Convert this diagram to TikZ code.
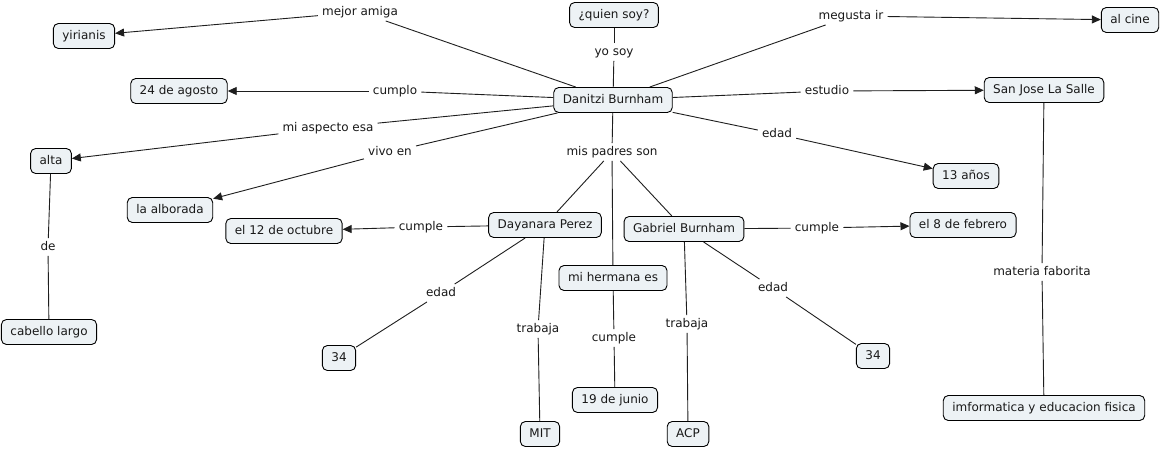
\documentclass[tikz,border=0pt]{standalone}
\usepackage{fontspec}
\setmainfont{DejaVu Sans}
\usetikzlibrary{arrows.meta}
\definecolor{boxfill}{RGB}{237,242,245}
\definecolor{linecol}{RGB}{30,30,30}
\tikzset{
  concept/.style={draw=black, line width=0.9pt, rounded corners=5pt, fill=boxfill,
    inner xsep=9pt, inner ysep=0pt, minimum height=25pt,
    text height=9pt, text depth=2.5pt, font=\fontsize{12}{14}\selectfont, text=black!90},
  lab/.style={inner xsep=4pt, inner ysep=3pt, text height=9pt, text depth=2.5pt,
    font=\fontsize{12}{14}\selectfont, text=black!90},
  conn/.style={draw=linecol, line width=0.9pt},
  arr/.style={conn, -{Triangle[length=9pt,width=8pt]}}
}
\begin{document}
\begin{tikzpicture}[x=1pt,y=-1pt]
\fill[white] (0,0) rectangle (1165,448);
\useasboundingbox (0,0) rectangle (1165,448);
% concepts
\node[concept] (q) at (614,15) {¿quien soy?};
\node[concept] (d) at (613,100) {Danitzi Burnham};
\node[concept] (y) at (84,36) {yirianis};
\node[concept] (ag) at (179,91) {24 de agosto};
\node[concept] (alta) at (51,161) {alta};
\node[concept] (alb) at (170,210) {la alborada};
\node[concept] (cab) at (49,332) {cabello largo};
\node[concept] (oct) at (284,231) {el 12 de octubre};
\node[concept] (dp) at (545,225) {Dayanara Perez};
\node[concept] (gb) at (684,229) {Gabriel Burnham};
\node[concept] (mh) at (613,278) {mi hermana es};
\node[concept] (l34) at (339,358) {34};
\node[concept] (mit) at (540,434) {MIT};
\node[concept] (jun) at (615,400) {19 de junio};
\node[concept] (acp) at (688,434) {ACP};
\node[concept] (r34) at (873,356) {34};
\node[concept] (cine) at (1130,20) {al cine};
\node[concept] (sj) at (1044,90) {San Jose La Salle};
\node[concept] (a13) at (966,176) {13 años};
\node[concept] (feb) at (963,225) {el 8 de febrero};
\node[concept] (inf) at (1044,408) {imformatica y educacion fisica};
% linking phrases
\node[lab] (lyo) at (614,52) {yo soy};
\node[lab] (lma) at (360,12) {mejor amiga};
\node[lab] (lcumplo) at (395,91) {cumplo};
\node[lab] (lasp) at (328,128) {mi aspecto esa};
\node[lab] (lvivo) at (390,152) {vivo en};
\node[lab] (lde) at (48,247) {de};
\node[lab] (lmg) at (851,16) {megusta ir};
\node[lab] (lest) at (827,91) {estudio};
\node[lab] (ledad) at (777,134) {edad};
\node[lab] (lpadres) at (612,152) {mis padres son};
\node[lab] (lcumpleL) at (421,227) {cumple};
\node[lab] (lcumpleR) at (817,228) {cumple};
\node[lab] (ledadL) at (441,293) {edad};
\node[lab] (ltrabL) at (538,329) {trabaja};
\node[lab] (lcumpleM) at (614,338) {cumple};
\node[lab] (ltrabR) at (687,324) {trabaja};
\node[lab] (ledadR) at (773,288) {edad};
\node[lab] (lmat) at (1042,272) {materia faborita};
% connections
\draw[conn] (d) -- (lyo); \draw[conn] (lyo) -- (q);
\draw[conn] (d) -- (lma); \draw[arr] (lma) -- (y);
\draw[conn] (d) -- (lcumplo); \draw[arr] (lcumplo) -- (ag);
\draw[conn] (d) -- (lasp); \draw[arr] (lasp) -- (alta);
\draw[conn] (d) -- (lvivo); \draw[arr] (lvivo) -- (alb);
\draw[conn] (alta) -- (lde); \draw[conn] (lde) -- (cab);
\draw[conn] (d) -- (lmg); \draw[arr] (lmg) -- (cine);
\draw[conn] (d) -- (lest); \draw[arr] (lest) -- (sj);
\draw[conn] (d) -- (ledad); \draw[arr] (ledad) -- (a13);
\draw[conn] (d) -- (lpadres);
\draw[conn] (lpadres) -- (dp);
\draw[conn] (lpadres) -- (gb);
\draw[conn] (lpadres) -- (mh);
\draw[conn] (dp) -- (lcumpleL); \draw[arr] (lcumpleL) -- (oct);
\draw[conn] (dp) -- (ledadL); \draw[conn] (ledadL) -- (l34);
\draw[conn] (dp) -- (ltrabL); \draw[conn] (ltrabL) -- (mit);
\draw[conn] (mh) -- (lcumpleM); \draw[conn] (lcumpleM) -- (jun);
\draw[conn] (gb) -- (ltrabR); \draw[conn] (ltrabR) -- (acp);
\draw[conn] (gb) -- (ledadR); \draw[conn] (ledadR) -- (r34);
\draw[conn] (gb) -- (lcumpleR); \draw[arr] (lcumpleR) -- (feb);
\draw[conn] (sj) -- (lmat); \draw[conn] (lmat) -- (inf);
\end{tikzpicture}
\end{document}
